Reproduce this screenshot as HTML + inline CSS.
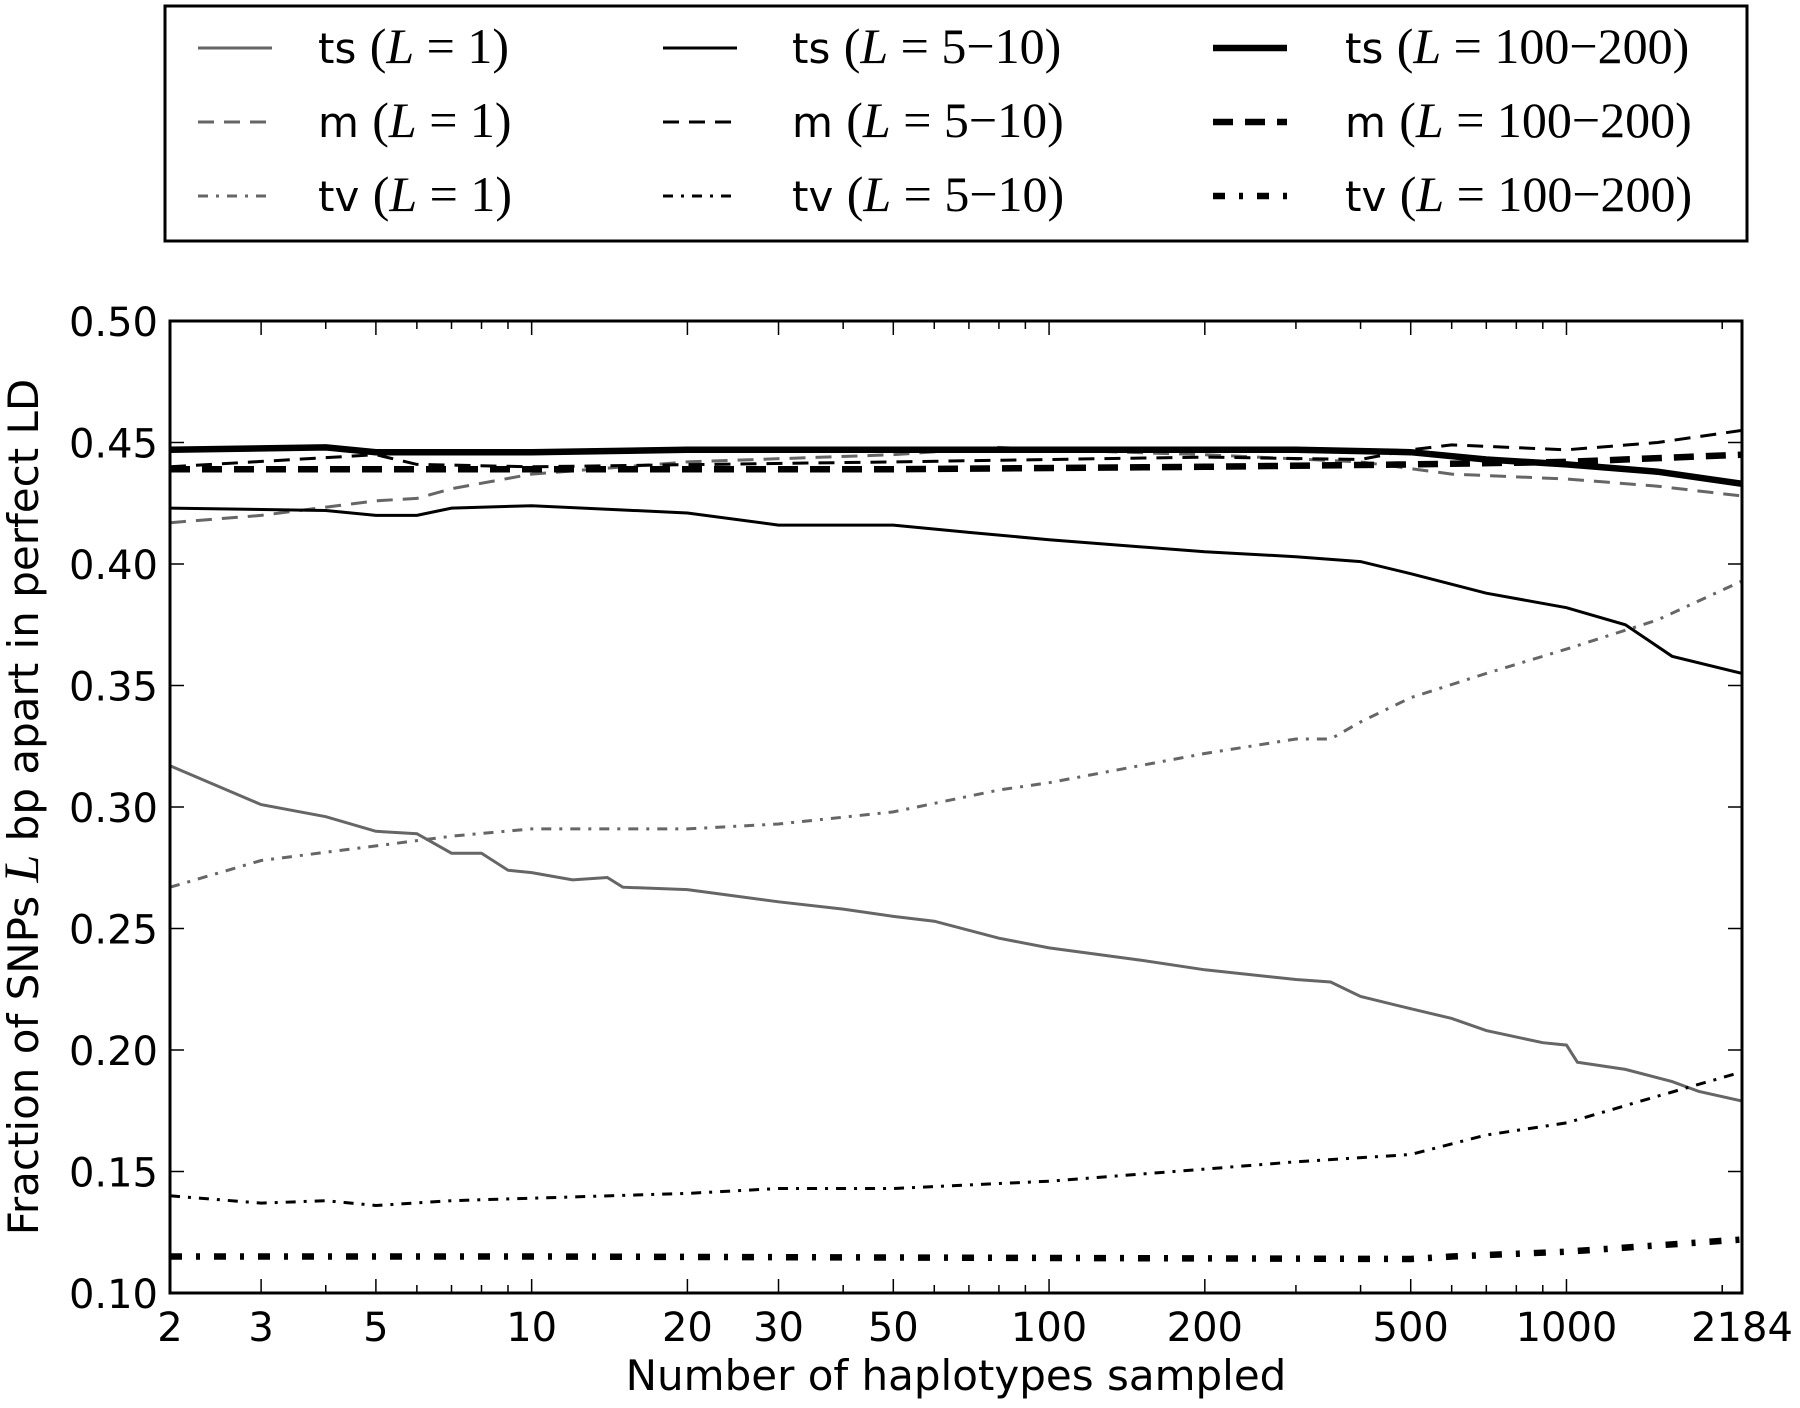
<!DOCTYPE html>
<html><head><meta charset="utf-8"><style>
body{margin:0;background:#fff}
svg text{font-family:"DejaVu Sans","Liberation Sans",sans-serif}
.m{font-family:"Liberation Serif",serif;font-size:50px}
</style></head><body>
<svg id="chart" width="1800" height="1403" viewBox="0 0 1800 1403" xmlns="http://www.w3.org/2000/svg">
<rect width="1800" height="1403" fill="#fff"/>
<g id="legend"></g>
<g id="plot"></g>
<g id="axes"></g>
</svg>
<script>
const xTicks=[2,3,5,10,20,30,50,100,200,500,1000,2184];
const yTicks=[0.10,0.15,0.20,0.25,0.30,0.35,0.40,0.45,0.50];
const tsL1X=[2,3,4,5,6,7,8,9,10,12,14,15,20,30,40,50,60,80,100,150,200,300,350,400,500,600,700,900,1000,1050,1300,1600,1800,2184];
const tsL1Y=[0.317,0.301,0.296,0.290,0.289,0.281,0.281,0.274,0.273,0.270,0.271,0.267,0.266,0.261,0.258,0.255,0.253,0.246,0.242,0.237,0.233,0.229,0.228,0.222,0.217,0.213,0.208,0.203,0.202,0.195,0.192,0.187,0.183,0.179];
const mL1X=[2,3,5,6,7,10,20,50,80,100,200,400,600,1000,1500,2184];
const mL1Y=[0.417,0.420,0.426,0.427,0.431,0.437,0.442,0.445,0.448,0.447,0.445,0.442,0.437,0.435,0.432,0.428];
const tvL1X=[2,3,5,7,10,20,30,50,80,100,200,300,350,400,500,700,1000,1500,2184];
const tvL1Y=[0.267,0.278,0.284,0.288,0.291,0.291,0.293,0.298,0.307,0.310,0.322,0.328,0.328,0.335,0.345,0.355,0.365,0.377,0.393];
const tsL5X=[2,4,5,6,7,10,20,30,50,70,100,200,300,400,500,700,1000,1300,1600,2184];
const tsL5Y=[0.423,0.422,0.420,0.420,0.423,0.424,0.421,0.416,0.416,0.413,0.410,0.405,0.403,0.401,0.396,0.388,0.382,0.375,0.362,0.355];
const mL5X=[2,5,6,10,50,100,200,400,500,600,1000,1500,2184];
const mL5Y=[0.440,0.445,0.441,0.440,0.442,0.443,0.444,0.443,0.447,0.449,0.447,0.450,0.455];
const tvL5X=[2,3,4,5,7,10,20,30,50,100,200,300,500,700,1000,1500,2184];
const tvL5Y=[0.140,0.137,0.138,0.136,0.138,0.139,0.141,0.143,0.143,0.146,0.151,0.154,0.157,0.165,0.170,0.181,0.191];
const tsL100X=[2,4,5,10,20,100,300,500,700,1000,1500,2184];
const tsL100Y=[0.447,0.448,0.446,0.446,0.447,0.447,0.447,0.446,0.443,0.441,0.438,0.433];
const mL100X=[2,50,200,500,1000,2184];
const mL100Y=[0.439,0.439,0.440,0.441,0.442,0.445];
const tvL100X=[2,10,500,600,1000,2184];
const tvL100Y=[0.115,0.115,0.114,0.115,0.117,0.122];

const L=170,R=1742,T=321,B=1293;
const xs=v=>L+(Math.log(v)-Math.log(2))/(Math.log(2184)-Math.log(2))*(R-L);
const ys=v=>B-(v-0.10)/0.40*(B-T);
const NS="http://www.w3.org/2000/svg";
function mk(tag,attrs,parent){const e=document.createElementNS(NS,tag);for(const k in attrs)e.setAttribute(k,attrs[k]);parent.appendChild(e);return e;}
const G='#666';
const series=[
 {n:'ts-l1',x:tsL1X,y:tsL1Y,c:G,w:3,d:'',lab:'ts',L:'1',col:0,row:0},
 {n:'m-l1',x:mL1X,y:mL1Y,c:G,w:3,d:'16 10',lab:'m',L:'1',col:0,row:1},
 {n:'tv-l1',x:tvL1X,y:tvL1Y,c:G,w:3,d:'10 8 3 8',lab:'tv',L:'1',col:0,row:2},
 {n:'ts-l5-10',x:tsL5X,y:tsL5Y,c:'#000',w:3,d:'',lab:'ts',L:'5\u221210',col:1,row:0},
 {n:'m-l5-10',x:mL5X,y:mL5Y,c:'#000',w:3,d:'16 10',lab:'m',L:'5\u221210',col:1,row:1},
 {n:'tv-l5-10',x:tvL5X,y:tvL5Y,c:'#000',w:3,d:'10 8 3 8',lab:'tv',L:'5\u221210',col:1,row:2},
 {n:'ts-l100-200',x:tsL100X,y:tsL100Y,c:'#000',w:6.5,d:'',lab:'ts',L:'100\u2212200',col:2,row:0},
 {n:'m-l100-200',x:mL100X,y:mL100Y,c:'#000',w:6.5,d:'20 12',lab:'m',L:'100\u2212200',col:2,row:1},
 {n:'tv-l100-200',x:tvL100X,y:tvL100Y,c:'#000',w:6.5,d:'12 14 4 14',lab:'tv',L:'100\u2212200',col:2,row:2},
];
const plot=document.getElementById('plot');
const cp=mk('clipPath',{id:'cp'},plot);
mk('rect',{x:L,y:T,width:R-L,height:B-T},cp);
series.forEach(s=>{
 const p=mk('polyline',{points:s.x.map((v,i)=>xs(v).toFixed(1)+','+ys(s.y[i]).toFixed(1)).join(' '),fill:'none',stroke:s.c,'stroke-width':s.w,'stroke-dasharray':s.d,'clip-path':'url(#cp)'},plot);
 
 
});
const ax=document.getElementById('axes');
const frame=mk('rect',{x:L,y:T,width:R-L,height:B-T,fill:'none',stroke:'#000','stroke-width':3},ax);


const minor=[];for(let d=1;d<=1000;d*=10)for(let k=2;k<10;k++){const v=k*d;if(v>2&&v<2184)minor.push(v);}
minor.forEach(v=>{if(xTicks.includes(v))return;mk('line',{x1:xs(v),x2:xs(v),y1:B,y2:B-8,stroke:'#000','stroke-width':1.5},ax);mk('line',{x1:xs(v),x2:xs(v),y1:T,y2:T+8,stroke:'#000','stroke-width':1.5},ax);});
xTicks.forEach(v=>{
 mk('line',{x1:xs(v),x2:xs(v),y1:B,y2:B-14,stroke:'#000','stroke-width':1.5},ax);
 mk('line',{x1:xs(v),x2:xs(v),y1:T,y2:T+14,stroke:'#000','stroke-width':1.5},ax);
 const t=mk('text',{x:xs(v),y:1341,'font-size':40,'text-anchor':'middle'},ax);t.textContent=String(v);
 
 
});
yTicks.forEach(v=>{
 mk('line',{x1:L,x2:L+14,y1:ys(v),y2:ys(v),stroke:'#000','stroke-width':1.5},ax);
 mk('line',{x1:R,x2:R-14,y1:ys(v),y2:ys(v),stroke:'#000','stroke-width':1.5},ax);
 const t=mk('text',{x:158,y:ys(v)+15,'font-size':40,'text-anchor':'end'},ax);t.textContent=v.toFixed(2);
 
 
});
const xl=mk('text',{x:956,y:1390,'font-size':42,'text-anchor':'middle'},ax);xl.textContent='Number of haplotypes sampled';


const yl=mk('text',{x:0,y:0,'font-size':42,'text-anchor':'middle',transform:'translate(38 807) rotate(-90)'},ax);
yl.innerHTML='Fraction of SNPs <tspan class="m" font-style="italic">L</tspan> bp apart in perfect LD';


const lg=document.getElementById('legend');
const lb=mk('rect',{x:165,y:6,width:1582,height:235,fill:'#fff',stroke:'#000','stroke-width':3},lg);


const colLine=[198,663,1213],colText=[318,792,1345],rowY=[48,122,196];
series.forEach(s=>{
 const g=mk('g',{},lg);
 
 
 const x0=colLine[s.col],y0=rowY[s.row];
 mk('line',{x1:x0,x2:x0+74,y1:y0,y2:y0,stroke:s.c,'stroke-width':s.w,'stroke-dasharray':s.d},g);
 const t=mk('text',{x:colText[s.col],y:y0+15,'font-size':42},g);
 t.innerHTML=s.lab+' <tspan class="m">(</tspan><tspan class="m" font-style="italic">L</tspan><tspan class="m">\u2005=\u2005'+s.L+')</tspan>';
});
</script>
</body></html>
